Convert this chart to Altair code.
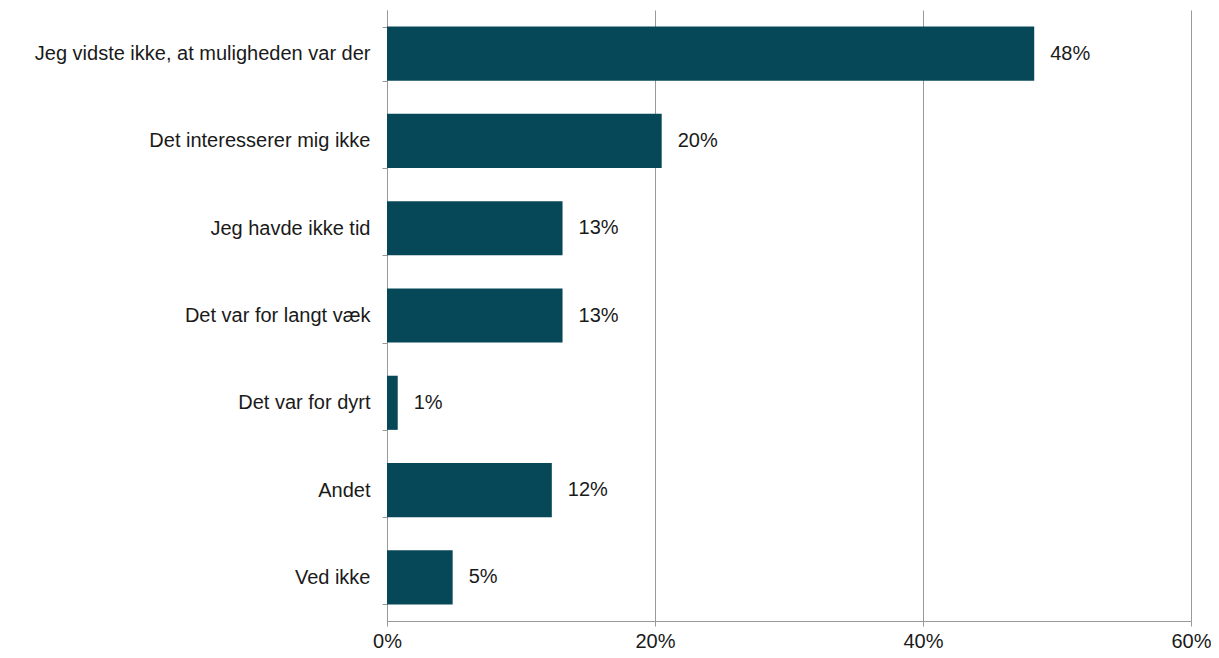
import altair as alt
import pandas as pd

categories = [
    "Jeg vidste ikke, at muligheden var der",
    "Det interesserer mig ikke",
    "Jeg havde ikke tid",
    "Det var for langt væk",
    "Det var for dyrt",
    "Andet",
    "Ved ikke",
]
values = [0.483, 0.205, 0.131, 0.131, 0.008, 0.123, 0.049]
labels = ["48%", "20%", "13%", "13%", "1%", "12%", "5%"]

df = pd.DataFrame({"cat": categories, "val": values, "lab": labels})

FONT = "Liberation Sans"
FS = 20

y = alt.Y(
    "cat:N",
    sort=categories,
    title=None,
    scale=alt.Scale(paddingInner=0.38, paddingOuter=0.19),
    axis=alt.Axis(
        tickBand="extent",
        labelFontSize=FS,
        labelFont=FONT,
        labelColor="#1a1a1a",
        labelPadding=12,
        tickSize=5,
        tickColor="#999999",
        domainColor="#999999",
        labelLimit=500,
    ),
)
x = alt.X(
    "val:Q",
    title=None,
    scale=alt.Scale(domain=[0, 0.6]),
    axis=alt.Axis(
        values=[0, 0.2, 0.4, 0.6],
        format=".0%",
        labelFontSize=FS,
        labelFont=FONT,
        labelColor="#1a1a1a",
        labelFlush=False,
        labelOverlap=False,
        tickSize=5,
        tickColor="#999999",
        domainColor="#999999",
        gridColor="#999999",
        labelPadding=5,
    ),
)

bars = alt.Chart(df).mark_bar(color="#074858").encode(x=x, y=y)
text = alt.Chart(df).mark_text(
    align="left", dx=16, fontSize=FS, font=FONT, color="#1a1a1a"
).encode(x="val:Q", y=alt.Y("cat:N", sort=categories), text="lab:N")

chart = (
    alt.layer(bars, text)
    .properties(
        width=804,
        height=611,
        autosize=alt.AutoSizeParams(type="none"),
        padding={"left": 379, "top": 2, "right": 20, "bottom": 30},
    )
    .configure_view(stroke=None)
    .configure_axisY(grid=False)
)

chart.save("out.html", embed_options={"renderer": "svg", "actions": False})
